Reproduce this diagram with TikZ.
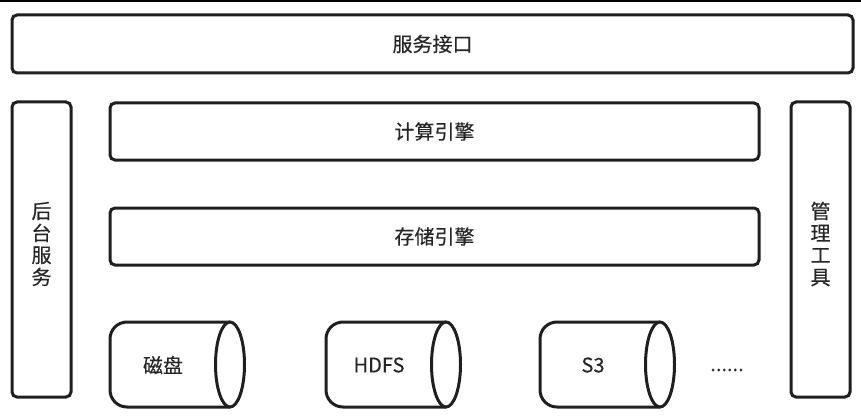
\documentclass[tikz,border=0pt]{standalone}
\usepackage{fontspec}
\setmainfont{Noto Sans CJK SC}[FakeBold=0.35]
\begin{document}
\begin{tikzpicture}[x=1pt,y=-1pt,
  box/.style={draw=black!88,line width=3pt,rounded corners=5pt},
  lbl/.style={font=\fontsize{20}{22}\selectfont,text=black!85,align=center},
  cyl/.style={draw=black!88,line width=3pt,fill=white}]
\useasboundingbox (0,0) rectangle (861,417);
\fill[black] (0,0) rectangle (861,2.2);
% top box
\draw[box] (12,15) rectangle (853,73);
\node[lbl] (api) at (432.5,44) {服务接口};
% side boxes
\draw[box] (12,102) rectangle (71,397);
\node[lbl] (back) at (41.5,244) {后\\台\\服\\务};
\draw[box] (791,102) rectangle (850,397);
\node[lbl] (mgmt) at (820.5,244) {管\\理\\工\\具};
% engines
\draw[box] (110,103) rectangle (759,160);
\node[lbl] (calc) at (434.5,131.5) {计算引擎};
\draw[box] (110,208) rectangle (759,265);
\node[lbl] (store) at (434.5,236.5) {存储引擎};
% cylinders
\foreach \x/\t/\n in {110/磁盘/c1, 326/HDFS/c2, 540/S3/c3}{
  \draw[cyl,rounded corners=17pt] (\x+120,322) -- (\x,322) -- (\x,407) -- (\x+120,407);
  \draw[cyl] (\x+120,364.5) ellipse [x radius=14.5, y radius=42.5];
  \node[lbl] (\n) at (\x+53,365) {\t};
}
\node[lbl] (dots) at (727,370) {......};
\end{tikzpicture}
\end{document}
